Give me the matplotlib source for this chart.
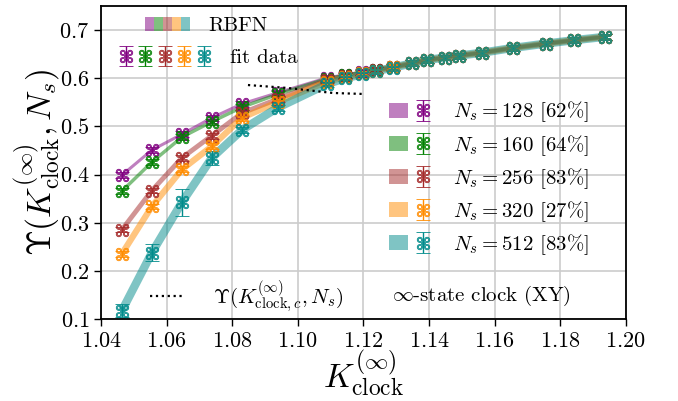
import numpy as np
import matplotlib
matplotlib.use("Agg")
import matplotlib.pyplot as plt
from matplotlib.patches import Patch
from matplotlib.legend_handler import HandlerTuple

plt.rcParams['font.family'] = 'serif'
plt.rcParams['font.serif'] = ['cmr10']
plt.rcParams['mathtext.fontset'] = 'cm'
plt.rcParams['axes.formatter.use_mathtext'] = True
plt.rcParams['axes.unicode_minus'] = False

# coupling values (same for every lattice size)
K = [1.0464, 1.0555, 1.0647, 1.0738, 1.0830, 1.0939, 1.1089, 1.1144, 1.1195, 1.1238,
     1.1290, 1.1348, 1.1394, 1.1448, 1.1491, 1.1561, 1.1656, 1.1756, 1.1842, 1.1936]

top = [0.631, 0.638, 0.643, 0.647, 0.653, 0.663, 0.672, 0.679, 0.686]

ups_128 = [0.399, 0.451, 0.484, 0.518, 0.547, 0.570, 0.601, 0.607, 0.613, 0.618, 0.623] + top
ups_160 = [0.366, 0.426, 0.478, 0.510, 0.540, 0.567, 0.599, 0.606, 0.612, 0.617, 0.623] + top
ups_256 = [0.286, 0.367, 0.435, 0.481, 0.528, 0.557, 0.596, 0.604, 0.611, 0.617, 0.623] + top
ups_320 = [0.236, 0.334, 0.411, 0.459, 0.518, 0.551, 0.593, 0.602, 0.610, 0.616, 0.623] + top
ups_512 = [0.118, 0.238, 0.343, 0.435, 0.493, 0.539, 0.588, 0.600, 0.608, 0.615, 0.622] + top

err_small = [0.006] * len(K)
err_512 = [0.014, 0.018, 0.028, 0.014] + [0.006] * (len(K) - 4)

sizes = [128, 160, 256, 320, 512]
percent = [62, 64, 83, 27, 83]
series = [ups_128, ups_160, ups_256, ups_320, ups_512]
errors = [err_small, err_small, err_small, err_small, err_512]
colors = ['purple', 'green', 'brown', 'darkorange', 'darkcyan']
line_w = [2.2, 2.5, 3.5, 4.5, 6]

# Upsilon at the critical coupling
Kc_line = [1.0848, 1.0967, 1.1107, 1.1198]
ups_c_line = [0.586, 0.580, 0.5695, 0.5675]

fig, ax = plt.subplots(figsize=(6.78, 4.01), dpi=100)
fig.subplots_adjust(left=0.149, right=0.923, bottom=0.204, top=0.985)

patches, ebars = [], []
for ys, es, c, lw in zip(series, errors, colors, line_w):
    ax.plot(K, ys, color=c, alpha=0.5, lw=lw, solid_capstyle='butt', zorder=2)
    eb = ax.errorbar(K, ys, yerr=es, marker='$⌘$', linestyle='none', ms=9, mfc='none', mec=c,
                     mew=0.6, color=c, ecolor=c, elinewidth=1.0, capsize=5, capthick=1.0, zorder=3)
    patches.append(Patch(color=c, alpha=0.5, lw=0))
    ebars.append(eb)

crit, = ax.plot(Kc_line, ups_c_line, 'k:', lw=1.6, zorder=4)

ax.set_xlim(1.04, 1.20)
ax.set_ylim(0.1, 0.75)
ax.set_xticks(np.arange(1.04, 1.2001, 0.02))
ax.set_yticks(np.arange(0.1, 0.7001, 0.1))
ax.tick_params(labelsize=16, direction='out', length=5, width=1)
ax.grid(True, color='0.8', lw=1.2)
ax.set_axisbelow(True)
for s in ax.spines.values():
    s.set_linewidth(1.3)

ax.set_xlabel(r'$K^{(\infty)}_{\rm clock}$', fontsize=24, labelpad=-1)
ax.set_ylabel(r'$\Upsilon(K^{(\infty)}_{\rm clock},N_s)$', fontsize=24, labelpad=-2)

fs = 15
common = dict(frameon=False, fontsize=fs, borderpad=0, borderaxespad=0, loc='center left')

leg1 = ax.legend([tuple(patches)], ['RBFN'], handler_map={tuple: HandlerTuple(ndivide=None, pad=0)},
                 bbox_to_anchor=(0.084, 0.936), handlelength=2.16, handletextpad=0.87, **common)
ax.add_artist(leg1)
leg2 = ax.legend([tuple(ebars)], ['fit data'], handler_map={tuple: HandlerTuple(ndivide=None, pad=0.17)},
                 bbox_to_anchor=(0.032, 0.834), handlelength=4.5, handletextpad=0.87, **common)
ax.add_artist(leg2)

labels = [rf'$N_s = {n}$ [{p}%]' for n, p in zip(sizes, percent)]
leg3 = ax.legend([(p, e) for p, e in zip(patches, ebars)], labels,
                 handler_map={tuple: HandlerTuple(ndivide=None, pad=0.29)},
                 bbox_to_anchor=(0.549, 0.45), handlelength=2.1, handletextpad=0.96,
                 labelspacing=0.4, **common)
ax.add_artist(leg3)
ax.legend([crit], [r'$\Upsilon(K^{(\infty)}_{{\rm clock},c},N_s)$'],
          bbox_to_anchor=(0.093, 0.073), handlelength=1.68, handletextpad=1.35, **common)

ax.text(0.554, 0.073, r'$\infty$-state clock (XY)', transform=ax.transAxes, ha='left', va='center',
        fontsize=fs)

fig.savefig('out.png', dpi=100)
